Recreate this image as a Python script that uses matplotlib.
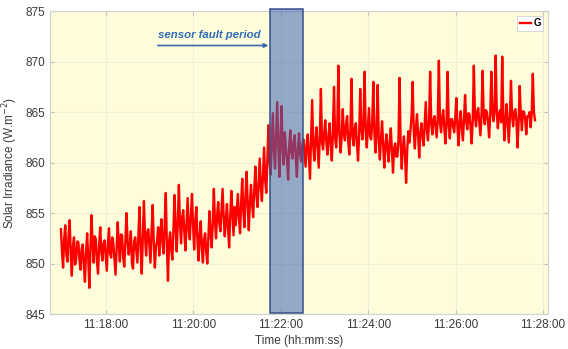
import numpy as np
import matplotlib.pyplot as plt
from matplotlib.ticker import FuncFormatter

# Irradiance samples (W/m^2), 1.5 s apart, one row per minute from 11:16:58
g_minute_blocks = [
    [853.4, 851.2, 849.6, 852.5, 853.8, 850.9, 850.2, 852.8, 854.3, 851.0,
     848.8, 851.7, 852.6, 849.9, 850.5, 852.2, 852.1, 850.3, 849.4, 851.5,
     851.9, 849.8, 848.2, 851.1, 853.0, 850.6, 847.6, 851.4, 854.8, 851.9,
     850.1, 852.7, 852.4, 850.2, 849.0, 851.8, 853.6, 851.2, 850.3, 852.0],
    [852.3, 850.8, 849.3, 851.9, 853.5, 851.0, 850.6, 852.6, 852.0, 850.4,
     848.9, 851.5, 854.1, 851.8, 850.2, 852.9, 852.8, 850.6, 849.7, 852.1,
     855.0, 852.3, 850.9, 851.6, 853.2, 850.1, 849.5, 852.2, 852.6, 851.3,
     850.1, 853.0, 855.6, 851.4, 849.0, 852.5, 856.2, 852.7, 850.8, 853.1],
    [853.4, 851.8, 850.1, 853.2, 855.8, 852.1, 849.6, 851.7, 852.2, 853.6,
     850.8, 852.9, 854.4, 852.0, 851.0, 853.8, 857.0, 851.9, 848.3, 852.2,
     853.1, 851.4, 850.4, 853.3, 856.8, 853.6, 851.2, 854.1, 857.8, 853.9,
     852.0, 854.6, 855.3, 853.1, 851.3, 854.0, 856.5, 853.4, 852.4, 854.8],
    [856.9, 853.7, 851.4, 854.2, 855.6, 852.3, 850.3, 852.8, 854.2, 851.5,
     850.1, 852.4, 853.0, 851.2, 850.0, 852.6, 855.2, 853.1, 851.6, 853.9,
     857.4, 854.2, 852.5, 854.8, 856.1, 854.0, 853.2, 855.3, 857.4, 854.6,
     852.7, 854.4, 855.9, 853.5, 851.6, 854.7, 857.2, 854.9, 852.8, 855.6],
    [853.8, 855.4, 856.9, 854.5, 853.0, 856.1, 858.4, 855.2, 853.6, 856.8,
     859.1, 855.7, 853.3, 856.0, 857.8, 855.9, 854.6, 857.3, 859.6, 856.8,
     855.6, 858.1, 860.4, 857.5, 856.2, 858.9, 861.5, 858.3, 857.0, 860.2,
     863.7, 860.1, 858.8, 861.9, 864.9, 861.2, 859.4, 862.6, 866.0, 861.8],
    [858.6, 862.4, 865.6, 861.2, 859.8, 863.0, 861.5, 860.2, 858.3, 861.7,
     863.2, 861.0, 860.4, 862.1, 862.7, 860.5, 858.6, 861.4, 862.9, 860.9,
     860.1, 861.8, 862.3, 861.0, 859.6, 861.9, 862.8, 860.7, 858.4, 862.5,
     866.2, 861.6, 860.2, 862.3, 863.5, 861.4, 859.5, 862.6, 867.3, 862.0],
    [861.3, 862.9, 864.2, 862.0, 860.8, 862.7, 863.9, 861.6, 860.2, 863.1,
     867.5, 862.4, 861.5, 863.6, 869.6, 862.8, 861.0, 862.5, 865.3, 862.9,
     862.2, 863.8, 864.6, 862.1, 860.8, 863.2, 868.3, 862.6, 861.7, 863.4,
     863.9, 861.8, 860.2, 862.7, 867.3, 863.5, 862.3, 864.0, 869.0, 863.1],
    [861.5, 863.4, 865.4, 862.6, 862.3, 864.1, 868.0, 862.9, 861.0, 863.3,
     867.7, 862.1, 860.3, 862.4, 864.1, 861.8, 859.5, 861.6, 862.8, 861.3,
     860.1, 862.0, 863.4, 861.1, 859.0, 861.4, 861.9, 860.6, 860.6, 862.2,
     868.4, 861.9, 859.4, 861.5, 862.6, 860.8, 858.0, 861.2, 863.1, 862.0],
    [863.2, 864.6, 868.0, 863.1, 861.4, 863.5, 864.8, 862.7, 860.5, 862.9,
     863.9, 862.6, 861.7, 863.8, 866.0, 863.2, 862.2, 864.1, 869.0, 863.9,
     862.8, 864.2, 864.6, 863.5, 862.5, 864.4, 870.1, 864.0, 863.0, 864.5,
     865.2, 863.4, 861.9, 864.0, 869.0, 863.8, 862.4, 864.3, 864.3, 863.6],
    [863.0, 864.5, 866.4, 863.6, 861.7, 863.9, 865.1, 863.4, 862.2, 864.3,
     866.7, 864.1, 863.3, 864.9, 864.8, 863.5, 861.9, 864.2, 869.6, 864.6,
     863.6, 865.0, 865.4, 864.1, 862.7, 864.6, 869.1, 864.8, 863.8, 865.2,
     865.0, 864.0, 862.5, 864.7, 869.0, 865.1, 864.1, 865.3, 870.6, 864.9],
    [863.4, 864.8, 865.2, 864.0, 870.5, 864.6, 862.2, 864.3, 865.8, 863.9,
     862.0, 864.5, 868.1, 864.7, 863.6, 865.0, 865.3, 864.2, 861.5, 864.0,
     867.6, 864.8, 863.2, 865.1, 865.0, 864.3, 862.8, 864.6, 864.6, 865.0,
     863.5, 864.9, 868.8, 865.0, 864.2],
]
g = np.concatenate(g_minute_blocks)

t_start = 11 * 3600 + 16 * 60 + 58      # seconds of day
t_step = 1.5
t = t_start + t_step * np.arange(len(g))

fault_start = 11 * 3600 + 21 * 60 + 45
fault_end = 11 * 3600 + 22 * 60 + 30
note_start = 11 * 3600 + 19 * 60 + 11

x_ticks = [11 * 3600 + m * 60 for m in range(18, 29, 2)]
y_ticks = [845, 850, 855, 860, 865, 870, 875]


def hms(x, pos=None):
    x = int(round(x))
    return '%d:%02d:%02d' % (x // 3600, (x % 3600) // 60, x % 60)


plt.rcParams['font.family'] = ['Liberation Sans', 'DejaVu Sans']

fig = plt.figure(figsize=(5.68, 3.49), dpi=100)
ax = fig.add_axes([0.088, 0.100, 0.877, 0.868])
ax.set_facecolor('#fdfddc')

ax.plot(t, g, color='#ff0000', lw=1.7, label='G', zorder=2)

# fault window drawn on top, slightly taller than the axes
ax.axvspan(fault_start, fault_end, ymin=0.003, ymax=1.007, facecolor='#3d64b4',
           alpha=0.55, edgecolor='none', zorder=3, clip_on=False)
ax.axvspan(fault_start, fault_end, ymin=0.003, ymax=1.007, facecolor='none',
           edgecolor='#34508c', lw=1.1, zorder=4, clip_on=False)

ax.annotate('', xy=(fault_start - 2, 871.6), xytext=(note_start, 871.6),
            arrowprops=dict(arrowstyle='-|>', color='#3c6bb0', lw=1.2,
                            mutation_scale=6, shrinkA=0, shrinkB=0))
ax.text(note_start, 872.1, 'sensor fault period', color='#2f6db5',
        fontsize=8.2, fontstyle='italic', fontweight='bold', ha='left', va='bottom')

ax.set_xlim(11 * 3600 + 16 * 60 + 43, 11 * 3600 + 28 * 60 + 7)
ax.set_ylim(845, 875)
ax.set_xticks(x_ticks)
ax.set_yticks(y_ticks)
ax.xaxis.set_major_formatter(FuncFormatter(hms))

ax.grid(True, color='#f1f0d6', lw=0.8)
ax.set_axisbelow(True)
for s in ax.spines.values():
    s.set_color('#d0d0d0')
    s.set_linewidth(0.8)
ax.tick_params(direction='in', length=3, color='#c0c0c0', labelsize=8.5,
               labelcolor='#3a3a3a', top=True, right=True)

ax.set_xlabel('Time (hh:mm:ss)', fontsize=8.5, color='#3a3a3a', labelpad=3)
ax.set_ylabel('Solar Irradiance (W.m$^{-2}$)', fontsize=8.5, color='#3a3a3a', labelpad=4)

leg = ax.legend(loc='upper right', fontsize=7, handlelength=1.2, handletextpad=0.2,
                borderpad=0.25, borderaxespad=0.5, fancybox=False, framealpha=1)
leg.get_frame().set_edgecolor('#d0d0d0')
leg.get_frame().set_linewidth(0.6)
for txt in leg.get_texts():
    txt.set_fontweight('bold')

fig.savefig('out.png', dpi=100)
